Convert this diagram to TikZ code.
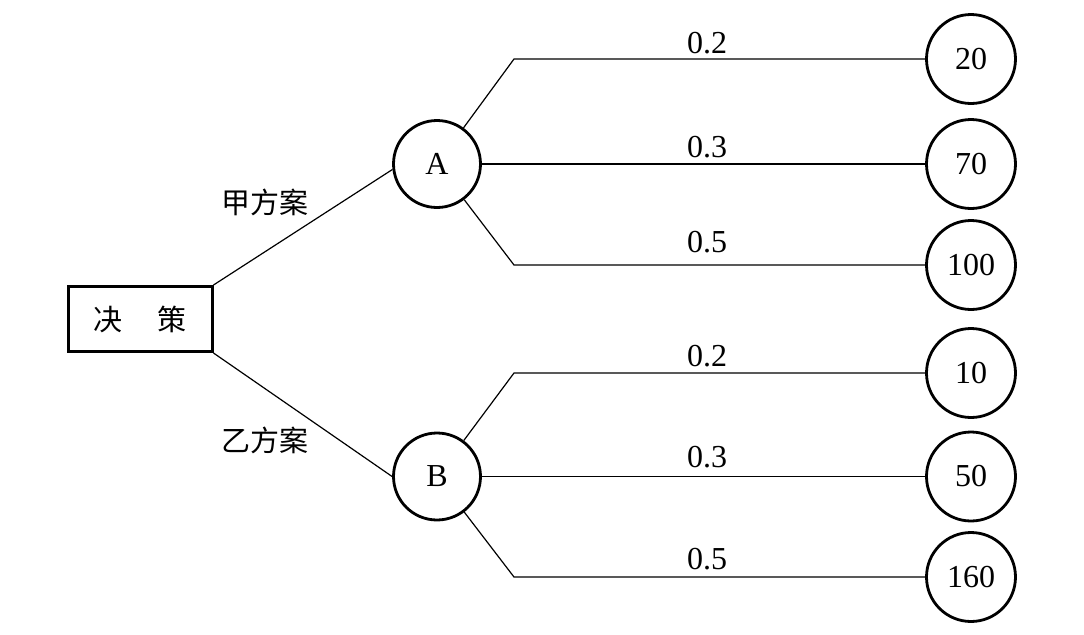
\documentclass[tikz,border=0pt]{standalone}
\usepackage{fontspec}
\setmainfont{Liberation Serif}
\newfontfamily\cjk{Noto Sans CJK SC}
\usetikzlibrary{positioning}

\begin{document}
\begin{tikzpicture}[x=0.5pt,y=-0.5pt,
  chance/.style={draw,circle,line width=1.4pt,inner sep=0pt,minimum size=43.5pt,font=\fontsize{16}{19}\selectfont},
  leaf/.style={chance,minimum size=44.5pt},
  prob/.style={anchor=base,font=\fontsize{16}{19}\selectfont},
  plan/.style={font=\cjk\fontsize{14.5}{17}\selectfont},
  branch/.style={line width=0.6pt}]
  \useasboundingbox (0,0) rectangle (1084,634);
  \node[draw,line width=1.5pt,minimum width=72pt,minimum height=32.5pt,inner sep=0pt,
        font=\cjk\fontsize{14.5}{17}\selectfont] (dec) at (140,319) {\raisebox{-1.5pt}{决\hspace{1.2em}策}};
  \node[chance] (A) at (437,164) {A};
  \node[chance] (B) at (437,476.5) {B};
  \node[plan] (pa) at (265,202) {甲方案};
  \node[plan] (pb) at (265,440) {乙方案};
  % outcomes
  \node[leaf] (l1) at (971,59) {20};
  \node[leaf] (l2) at (971,164) {70};
  \node[leaf] (l3) at (971,265) {100};
  \node[leaf] (l4) at (971,373) {10};
  \node[leaf] (l5) at (971,476.5) {50};
  \node[leaf] (l6) at (971,577) {160};
  \coordinate (a1) at (514,59);
  \coordinate (a3) at (514,265);
  \coordinate (b1) at (514,373);
  \coordinate (b3) at (514,577);
  \node[prob] (p1) at (707,53) {0.2};
  \node[prob] (p2) at (707,157) {0.3};
  \node[prob] (p3) at (707,252) {0.5};
  \node[prob] (p4) at (707,366) {0.2};
  \node[prob] (p5) at (707,467) {0.3};
  \node[prob] (p6) at (707,569) {0.5};
  \draw[branch] (dec.north east) -- (A.187);
  \draw[branch] (dec.south east) -- (B.west);
  \draw[branch] (A) -- (a1) -- (l1);
  \draw[branch] (A) -- (l2);
  \draw[branch] (A) -- (a3) -- (l3);
  \draw[branch] (B) -- (b1) -- (l4);
  \draw[branch] (B) -- (l5);
  \draw[branch] (B) -- (b3) -- (l6);
\end{tikzpicture}
\end{document}
